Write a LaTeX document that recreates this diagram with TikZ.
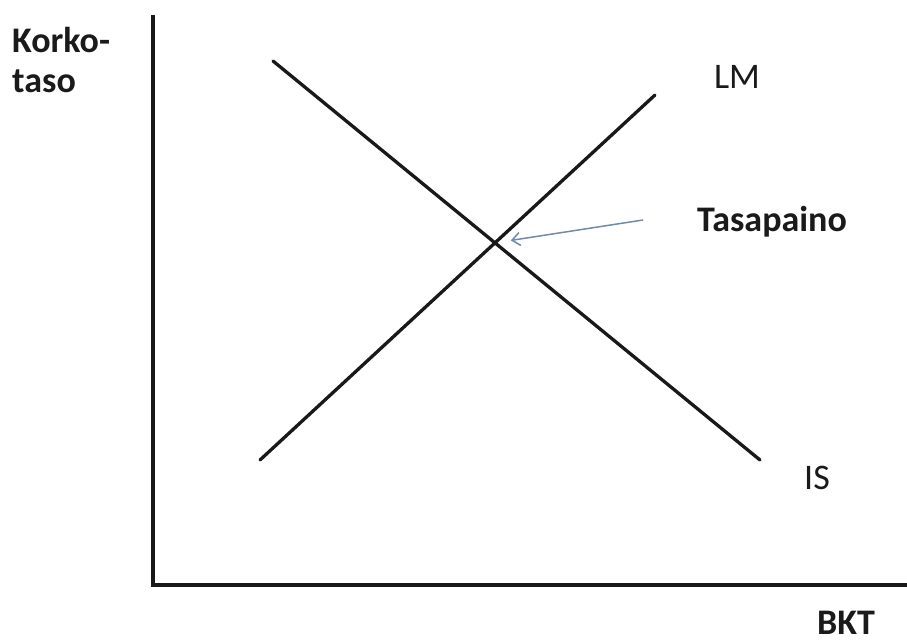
\documentclass[tikz,border=0pt]{standalone}
\usepackage{fontspec}
\setmainfont{Carlito}
\usepackage{tikz}
\usetikzlibrary{arrows.meta, positioning, calc}
\definecolor{arrc}{HTML}{6E8CA8}
\definecolor{txtc}{HTML}{1A1A1A}

\begin{document}
\begin{tikzpicture}[x=1pt, y=-1pt, >={Straight Barb[length=8pt, width=13pt]},
      curve/.style={line width=3.3pt, black!90},
      axis/.style={line width=3.4pt, black!90},
      lbl/.style={font=\fontsize{36}{40}\selectfont, text=txtc, inner sep=0pt},
      blbl/.style={lbl, font=\fontsize{36}{40}\selectfont\bfseries}]
    \useasboundingbox (0,0) rectangle (907,644);
    % axes
    \coordinate (o) at (153,585);
    \coordinate (ytop) at (153,15);
    \coordinate (xend) at (907,585);
    \draw[axis] (ytop) -- (o) -- (xend);
    % IS and LM curves
    \coordinate (is1) at (273,61);
    \coordinate (is2) at (760,460);
    \coordinate (lm1) at (260,460);
    \coordinate (lm2) at (655,95);
    \draw[curve, line cap=round] (is1) -- (is2);
    \draw[curve, line cap=round] (lm1) -- (lm2);
    \coordinate (eq) at (intersection of is1--is2 and lm1--lm2);
    % labels
    \node[blbl, align=left, anchor=north west] (ylab) at (12,27) {Korko-\\taso};
    \node[blbl, anchor=base] (xlab) at (846,634) {BKT};
    \node[lbl] (lmlab) at (737,77) {LM};
    \node[lbl] (islab) at (817,478) {IS};
    \node[blbl] (eqlab) at (772,222) {Tasapaino};
    \coordinate (arrtail) at (643,220);
    \draw[->, arrc, line width=1.5pt, shorten >=16pt] (arrtail) -- (eq);
\end{tikzpicture}
\end{document}
